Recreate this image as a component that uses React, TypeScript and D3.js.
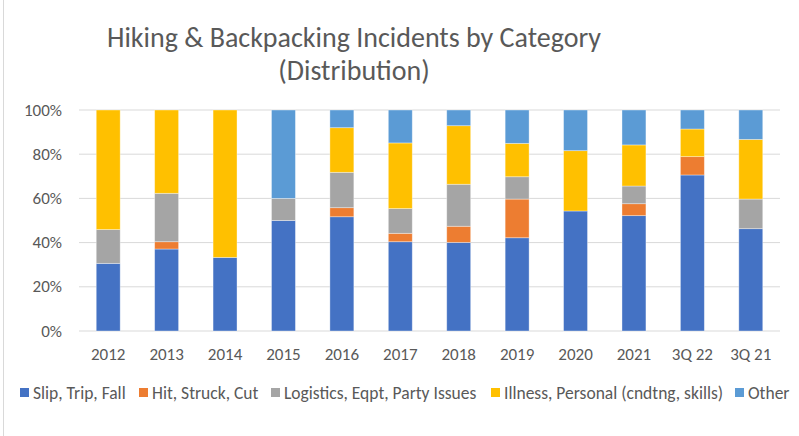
import React, { useEffect, useRef } from 'react';
import * as d3 from 'd3';

// values, percent of each year's total
const categories = ['2012', '2013', '2014', '2015', '2016', '2017', '2018', '2019', '2020', '2021', '3Q 22', '3Q 21'];
const slipTripFall = [30.6, 37.1, 33.3, 50, 51.7, 40.4, 40.1, 42.2, 54.3, 52.2, 70.6, 46.3];
const hitStruckCut = [0, 3.3, 0, 0, 4.1, 3.8, 7.3, 17.5, 0, 5.4, 8.3, 0];
const logistics = [15.3, 21.9, 0, 10, 16, 11.2, 19, 10.1, 0, 8, 0, 13.4];
const illness = [54.1, 37.7, 66.7, 0, 20.2, 29.7, 26.5, 15.1, 27.3, 18.6, 12.5, 27];
const other = [0, 0, 0, 40, 8, 14.9, 7.1, 15.1, 18.4, 15.8, 8.6, 13.3];
const yTicks = [0, 20, 40, 60, 80, 100];

const seriesNames = [
  'Slip, Trip, Fall',
  'Hit, Struck, Cut',
  'Logistics, Eqpt, Party Issues',
  'Illness, Personal (cndtng, skills)',
  'Other',
];
const colors = ['#4472C4', '#ED7D31', '#A5A5A5', '#FFC000', '#5B9BD5'];

const W = 799;
const H = 436;
const FONT = 'Carlito, Calibri, "Liberation Sans Narrow", "Open Sans", sans-serif';

const App = () => {
  const ref = useRef<SVGSVGElement>(null);

  useEffect(() => {
    const svg = d3.select(ref.current);
    svg.selectAll('*').remove();

    const keys = ['slip', 'hit', 'log', 'ill', 'other'];
    const table = categories.map((c, i) => ({
      cat: c,
      slip: slipTripFall[i],
      hit: hitStruckCut[i],
      log: logistics[i],
      ill: illness[i],
      other: other[i],
    }));
    const stacked = d3.stack<any>().keys(keys)(table);

    const x = d3.scaleBand().domain(categories).range([79, 780]).paddingInner(0.59).paddingOuter(0.295);
    const y = d3.scaleLinear().domain([0, 100]).range([331, 110]);

    // chart border at the left edge
    svg.append('rect').attr('x', 3.5).attr('y', -2).attr('width', W + 4).attr('height', H + 4)
      .attr('fill', '#fff').attr('stroke', '#d9d9d9');

    svg.append('g')
      .selectAll('line')
      .data(yTicks)
      .join('line')
      .attr('x1', 79).attr('x2', 780)
      .attr('y1', (d) => y(d)).attr('y2', (d) => y(d))
      .attr('stroke', '#d9d9d9').attr('stroke-width', 1);

    svg.append('g')
      .selectAll('text')
      .data(yTicks)
      .join('text')
      .attr('x', 62)
      .attr('y', (d) => y(d) + 5.5)
      .attr('text-anchor', 'end')
      .attr('font-family', FONT).attr('font-size', 17).attr('fill', '#595959')
      .text((d) => d + '%');

    svg.append('g')
      .selectAll('g')
      .data(stacked)
      .join('g')
      .attr('fill', (d, i) => colors[i])
      .selectAll('rect')
      .data((d) => d)
      .join('rect')
      .attr('x', (d: any) => x(d.data.cat)!)
      .attr('width', x.bandwidth())
      .attr('y', (d) => y(d[1]))
      .attr('height', (d) => y(d[0]) - y(d[1]))
      .attr('stroke', 'rgba(255,255,255,0.45)')
      .attr('stroke-width', 0.8);

    svg.append('g')
      .selectAll('text')
      .data(categories)
      .join('text')
      .attr('x', (d) => x(d)! + x.bandwidth() / 2)
      .attr('y', 360)
      .attr('text-anchor', 'middle')
      .attr('font-family', FONT).attr('font-size', 17).attr('fill', '#595959')
      .text((d) => d);

    // title
    const title = svg.append('text')
      .attr('text-anchor', 'middle')
      .attr('font-family', FONT).attr('font-size', 28).attr('fill', '#595959');
    title.append('tspan').attr('x', 354).attr('y', 47).text('Hiking & Backpacking Incidents by Category');
    title.append('tspan').attr('x', 354).attr('y', 80).text('(Distribution)');

    // legend
    const legendX = [20, 139, 271, 491, 735];
    const lg = svg.append('g')
      .selectAll('g')
      .data(seriesNames)
      .join('g')
      .attr('transform', (d, i) => `translate(${legendX[i]},388)`);
    lg.append('rect').attr('width', 9).attr('height', 9).attr('y', 0)
      .attr('fill', (d, i) => colors[i]);
    lg.append('text').attr('x', 13).attr('y', 10.5)
      .attr('font-family', FONT).attr('font-size', 17.5).attr('fill', '#595959')
      .text((d) => d);
  }, []);

  return (
    <svg
      ref={ref}
      width={W}
      height={H}
      style={{ position: 'absolute', left: 0, top: 0, background: '#fff' }}
    ></svg>
  );
};

export default App;
